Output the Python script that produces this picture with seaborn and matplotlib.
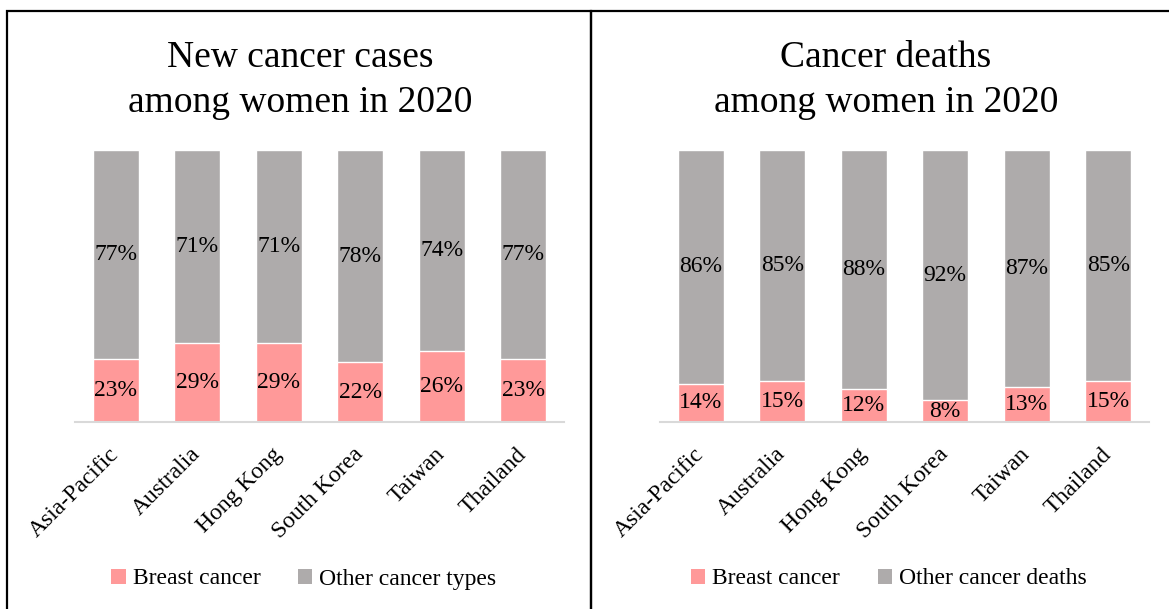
import matplotlib.pyplot as plt
import seaborn as sns
from matplotlib.patches import Patch, Rectangle

# data
countries = ['Asia-Pacific', 'Australia', 'Hong Kong', 'South Korea', 'Taiwan', 'Thailand']
cases_breast = [23, 29, 29, 22, 26, 23]
cases_other = [77, 71, 71, 78, 74, 77]
deaths_breast = [14, 15, 12, 8, 13, 15]
deaths_other = [86, 85, 88, 92, 87, 85]

pink = '#FF9999'
grey = '#AEABAB'

sns.set_style('white')
plt.rcParams['font.family'] = ['Liberation Serif', 'DejaVu Serif']
plt.rcParams['text.color'] = 'black'
plt.rcParams['xtick.color'] = 'black'

fig = plt.figure(figsize=(11.69, 6.09), dpi=100)

W, H = 1169, 609


def draw_panel(rect, breast, other, title, other_label, title_x, legend_x):
    ax = fig.add_axes(rect)
    total = [b + o for b, o in zip(breast, other)]
    # grey = full stack, pink drawn over the bottom part
    sns.barplot(x=countries, y=total, color=grey, saturation=1, width=0.57, ax=ax)
    sns.barplot(x=countries, y=breast, color=pink, saturation=1, width=0.57, ax=ax)
    ax.set_ylim(0, 100)
    ax.set_xlim(-0.5, 5.5)
    ax.set_yticks([])
    for s in ['top', 'right', 'left']:
        ax.spines[s].set_visible(False)
    ax.spines['bottom'].set_color('#D9D9D9')
    ax.spines['bottom'].set_linewidth(1.5)

    for i, (b, o) in enumerate(zip(breast, other)):
        ax.text(i, b / 2, f'{b}%', ha='center', va='center', fontsize=17, color='black')
        ax.text(i, b + o / 2, f'{o}%', ha='center', va='center', fontsize=17, color='black')

    ax.tick_params(axis='x', length=0, pad=21, labelsize=17, labelcolor='black')
    for lab in ax.get_xticklabels():
        lab.set_rotation(45)
        lab.set_ha('right')
        lab.set_va('center')
        lab.set_rotation_mode('anchor')

    fig.text(title_x / W, 1 - 80 / H, title, ha='center', va='center',
             fontsize=27, linespacing=1.4, multialignment='center', color='black')

    handles = [Patch(facecolor=pink, edgecolor='none', label='Breast cancer'),
               Patch(facecolor=grey, edgecolor='none', label=other_label)]
    fig.legend(handles=handles, loc='center', bbox_to_anchor=(legend_x / W, 1 - 579 / H),
               ncol=2, frameon=False, fontsize=17, handlelength=0.6, handleheight=0.6,
               handletextpad=0.3, columnspacing=1.6)
    return ax


ax_bottom = 1 - 422 / H
ax_h = (422 - 150) / H
draw_panel([75 / W, ax_bottom, 489 / W, ax_h], cases_breast, cases_other,
           'New cancer cases\namong women in 2020', 'Other cancer types', 300, 304)
draw_panel([660 / W, ax_bottom, 489 / W, ax_h], deaths_breast, deaths_other,
           'Cancer deaths\namong women in 2020', 'Other cancer deaths', 886, 889)

# panel borders
for x0, x1 in [(7, 591), (591, 1180)]:
    fig.add_artist(Rectangle((x0 / W, -0.05), (x1 - x0) / W, (H - 11) / H + 0.05,
                             transform=fig.transFigure, fill=False,
                             edgecolor='black', linewidth=1.6, clip_on=False))

fig.savefig('out.png', dpi=100)
